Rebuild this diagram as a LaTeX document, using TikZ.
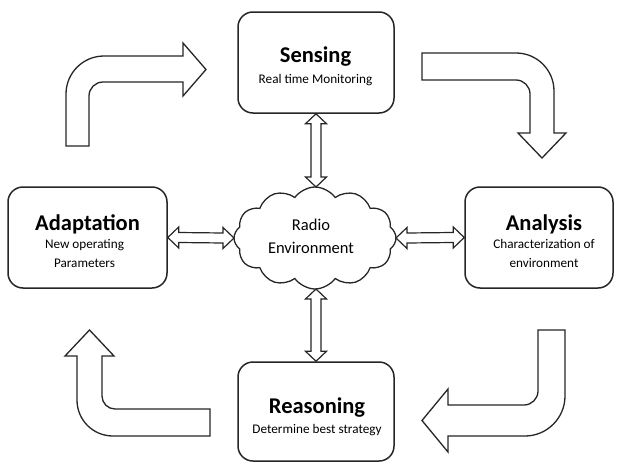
\documentclass[tikz,border=0pt]{standalone}
\usepackage{fontspec}
\setmainfont{Carlito}
\usetikzlibrary{calc,shapes.symbols}
\tikzset{
  box/.style={draw=black!85, line width=1.5pt, rounded corners=15pt, fill=white, inner sep=0pt},
  blk/.style={draw=black!85, line width=1.3pt, fill=white, line join=miter},
  dbl/.style={draw=black!85, line width=1.2pt, fill=white, line join=miter},
  ttl/.style={anchor=base, inner sep=0pt, font=\fontsize{22.5}{24}\selectfont\bfseries},
  sub/.style={anchor=base, inner sep=0pt, font=\fontsize{13.2}{15}\selectfont},
  cld/.style={anchor=base, inner sep=0pt, font=\fontsize{16.5}{18}\selectfont},
}
\newcommand\DArrV[2]{\draw[dbl] (#1) -- ($(#1)+(10.5,10)$) -- ($(#1)+(5,10)$) -- ($(#2)+(5,-10)$) -- ($(#2)+(10.5,-10)$) -- (#2) -- ($(#2)+(-10.5,-10)$) -- ($(#2)+(-5,-10)$) -- ($(#1)+(-5,10)$) -- ($(#1)+(-10.5,10)$) -- cycle;}
\newcommand\DArrH[2]{\draw[dbl] (#1) -- ($(#1)+(11,-10.5)$) -- ($(#1)+(11,-5)$) -- ($(#2)+(-11,-5)$) -- ($(#2)+(-11,-10.5)$) -- (#2) -- ($(#2)+(-11,10.5)$) -- ($(#2)+(-11,5)$) -- ($(#1)+(11,5)$) -- ($(#1)+(11,10.5)$) -- cycle;}
\begin{document}
\begin{tikzpicture}[x=1pt,y=-1pt]
\useasboundingbox[fill=white] (0,0) rectangle (621,463);

% boxes
\node[box, minimum width=156pt, minimum height=101pt] (sens) at (316,62.5) {};
\node[box, minimum width=159pt, minimum height=101pt] (adap) at (87.5,237.5) {};
\node[box, minimum width=148pt, minimum height=101pt] (anal) at (539,237.5) {};
\node[box, minimum width=156pt, minimum height=99pt] (reas) at (316,411.5) {};

% box texts
\node[ttl] (sensT) at (315.5,62) {Sensing};
\node[sub] (sensS) at (315.5,83) {Real time Monitoring};
\node[ttl] (adapT) at (87.5,230) {Adaptation};
\node[sub] (adapS1) at (84.5,248) {New operating};
\node[sub] (adapS2) at (84.5,267) {Parameters};
\node[ttl] (analT) at (544,230) {Analysis};
\node[sub] (analS1) at (544,248) {Characterization of};
\node[sub] (analS2) at (544,267) {environment};
\node[ttl] (reasT) at (317,413.5) {Reasoning};
\node[sub] (reasS) at (317,433) {Determine best strategy};

% cloud
\node[cloud, draw=black!85, line width=1.3pt, fill=white, cloud puffs=12, cloud puff arc=110, aspect=1.6,
      minimum width=162pt, minimum height=102pt, inner sep=0pt] (env) at (315,238) {};
\node[cld] (envT1) at (311,230) {Radio};
\node[cld] (envT2) at (311,253) {Environment};

% double arrows
\coordinate (sb) at (sens.south);
\coordinate (ct) at (316,187);
\coordinate (cb) at (316,289);
\coordinate (rt) at (reas.north);
\coordinate (ae) at (adap.east);
\coordinate (cl) at (234,238);
\coordinate (cr) at (396,238);
\coordinate (aw) at (anal.west);
\DArrV{sb}{ct}
\DArrV{cb}{rt}
\DArrH{ae}{cl}
\DArrH{cr}{aw}

% curved block arrows
\draw[blk] (66,146) -- (66,94) .. controls (66,73) and (83,56) .. (104,56) -- (183,56) -- (183,43) -- (206,69.5) -- (183,96) -- (183,82) -- (103,82) .. controls (95.3,82) and (89,88.3) .. (89,96) -- (89,146) -- cycle;

\draw[blk] (422,53) -- (516,53) .. controls (537,53) and (554,70) .. (554,91) -- (554,133) -- (566,133) -- (542,158) -- (518,133) -- (530,133) -- (530,94) .. controls (530,86.3) and (523.7,80) .. (516,80) -- (422,80) -- cycle;

\draw[blk] (538,330) -- (565,330) -- (565,396) .. controls (565,418) and (547,436) .. (525,436) -- (448,436) -- (448,452) -- (422,420.5) -- (448,389) -- (448,405) -- (524,405) .. controls (531.7,405) and (538,398.7) .. (538,391) -- cycle;

\draw[blk] (210,409) -- (210,436) -- (113,436) .. controls (93,436) and (77,420) .. (77,400) -- (77,356) -- (65,356) -- (89.5,330) -- (114,356) -- (102,356) -- (102,396) .. controls (102,403.2) and (107.8,409) .. (115,409) -- cycle;
\end{tikzpicture}
\end{document}
